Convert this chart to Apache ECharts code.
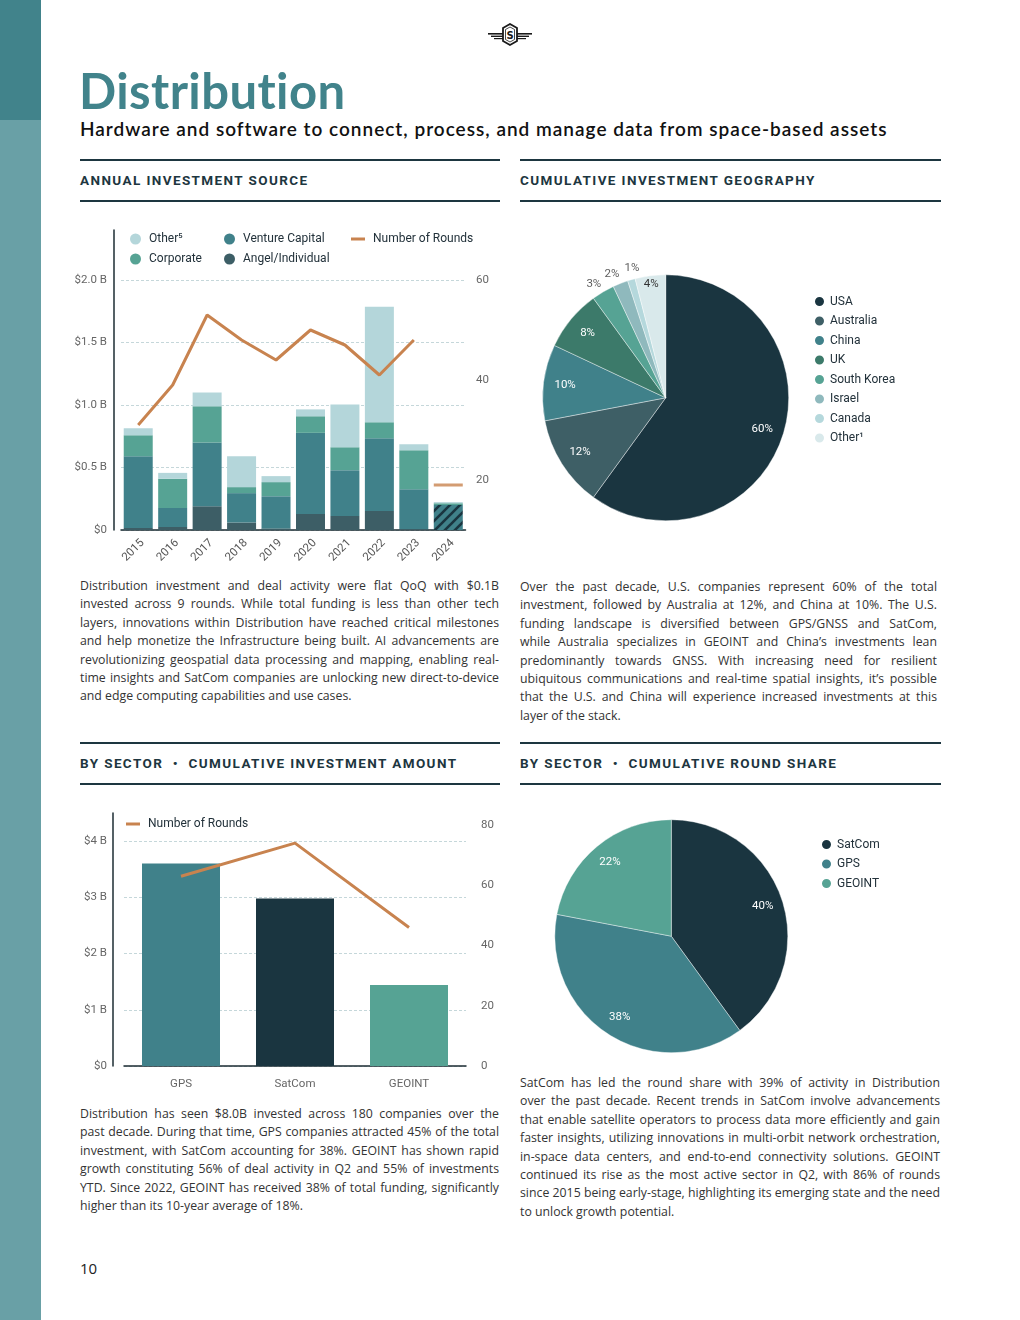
<!DOCTYPE html>
<html>
<head>
<meta charset="utf-8">
<script src="https://cdn.jsdelivr.net/npm/echarts@6/dist/echarts.min.js"></script>
<style>
  html, body { margin:0; padding:0; background:#fff; }
  #page { position:relative; width:1020px; height:1320px; overflow:hidden; background:#fff; }
  .side1 { position:absolute; left:0; top:0; width:41px; height:120px; background:#41838b; }
  .side2 { position:absolute; left:0; top:120px; width:41px; height:1200px; background:#69a0a6; }
  .title { position:absolute; left:79px; top:60px; font-family:Lato; font-weight:700; font-size:49px; color:#41838b; line-height:60px; letter-spacing:0.4px; }
  .subtitle { position:absolute; left:80px; top:118px; font-family:Lato; font-weight:600; font-size:19px; color:#111; line-height:22px; letter-spacing:1px; }
  .sec { position:absolute; box-sizing:border-box; border-top:2px solid #1d3640; border-bottom:2px solid #1d3640; height:43px; font-family:Roboto; font-weight:700; font-size:13.5px; letter-spacing:1.4px; color:#1d3640; line-height:39px; }
  .para { position:absolute; font-family:'Open Sans'; font-size:12.3px; line-height:18.4px; color:#333; }
  .para div { text-align:justify; text-align-last:justify; }
  .para div.last { text-align-last:left; }
  .chart { position:absolute; }
  .pnum { position:absolute; left:80px; top:1258px; font-family:'Open Sans'; font-size:15px; color:#222; line-height:20px; }
</style>
</head>
<body>
<div id="page">
  <div class="side1"></div>
  <div class="side2"></div>
  <svg style="position:absolute;left:486px;top:22px" width="48" height="26" viewBox="0 0 48 26">
    <g fill="#1a1a1a">
      <rect x="2" y="11" width="15" height="1.6"/>
      <rect x="5" y="13.6" width="12" height="1.4"/>
      <rect x="8" y="16" width="9" height="1.2"/>
      <rect x="31" y="11" width="15" height="1.6"/>
      <rect x="31" y="13.6" width="12" height="1.4"/>
      <rect x="31" y="16" width="9" height="1.2"/>
    </g>
    <polygon points="24,2 31,6 31,19 24,23 17,19 17,6" fill="#fff" stroke="#1a1a1a" stroke-width="1.8"/>
    <polygon points="24,5 28.5,7.5 28.5,17.5 24,20 19.5,17.5 19.5,7.5" fill="none" stroke="#1a1a1a" stroke-width="0.8"/>
    <text x="24" y="17" text-anchor="middle" font-family="DejaVu Sans" font-weight="700" font-size="10" fill="#1a1a1a">S</text>
  </svg>
  <div class="title">Distribution</div>
  <div class="subtitle">Hardware and software to connect, process, and manage data from space-based assets</div>

  <div class="sec" style="left:80px;top:159px;width:420px;">ANNUAL INVESTMENT SOURCE</div>
  <div class="sec" style="left:520px;top:159px;width:421px;">CUMULATIVE INVESTMENT GEOGRAPHY</div>
  <div class="sec" style="left:80px;top:742px;width:420px;">BY SECTOR &nbsp;•&nbsp; CUMULATIVE INVESTMENT AMOUNT</div>
  <div class="sec" style="left:520px;top:742px;width:421px;">BY SECTOR &nbsp;•&nbsp; CUMULATIVE ROUND SHARE</div>

  <div id="c1" class="chart" style="left:60px;top:215px;width:440px;height:360px;"></div>
  <div id="c2" class="chart" style="left:520px;top:215px;width:420px;height:340px;"></div>
  <div id="c3" class="chart" style="left:60px;top:800px;width:440px;height:300px;"></div>
  <div id="c4" class="chart" style="left:520px;top:800px;width:420px;height:270px;"></div>

  <div class="para" style="left:80px;top:577px;width:419px;">
    <div>Distribution investment and deal activity were flat QoQ with $0.1B</div>
    <div>invested across 9 rounds. While total funding is less than other tech</div>
    <div>layers, innovations within Distribution have reached critical milestones</div>
    <div>and help monetize the Infrastructure being built. AI advancements are</div>
    <div>revolutionizing geospatial data processing and mapping, enabling real-</div>
    <div>time insights and SatCom companies are unlocking new direct-to-device</div>
    <div class="last">and edge computing capabilities and use cases.</div>
  </div>
  <div class="para" style="left:520px;top:578px;width:417px;">
    <div>Over the past decade, U.S. companies represent 60% of the total</div>
    <div>investment, followed by Australia at 12%, and China at 10%. The U.S.</div>
    <div>funding landscape is diversified between GPS/GNSS and SatCom,</div>
    <div>while Australia specializes in GEOINT and China’s investments lean</div>
    <div>predominantly towards GNSS. With increasing need for resilient</div>
    <div>ubiquitous communications and real-time spatial insights, it’s possible</div>
    <div>that the U.S. and China will experience increased investments at this</div>
    <div class="last">layer of the stack.</div>
  </div>
  <div class="para" style="left:80px;top:1105px;width:419px;">
    <div>Distribution has seen $8.0B invested across 180 companies over the</div>
    <div>past decade. During that time, GPS companies attracted 45% of the total</div>
    <div>investment, with SatCom accounting for 38%. GEOINT has shown rapid</div>
    <div>growth constituting 56% of deal activity in Q2 and 55% of investments</div>
    <div>YTD. Since 2022, GEOINT has received 38% of total funding, significantly</div>
    <div class="last">higher than its 10-year average of 18%.</div>
  </div>
  <div class="para" style="left:520px;top:1074px;width:420px;">
    <div>SatCom has led the round share with 39% of activity in Distribution</div>
    <div>over the past decade. Recent trends in SatCom involve advancements</div>
    <div>that enable satellite operators to process data more efficiently and gain</div>
    <div>faster insights, utilizing innovations in multi-orbit network orchestration,</div>
    <div>in-space data centers, and end-to-end connectivity solutions. GEOINT</div>
    <div>continued its rise as the most active sector in Q2, with 86% of rounds</div>
    <div>since 2015 being early-stage, highlighting its emerging state and the need</div>
    <div class="last">to unlock growth potential.</div>
  </div>
  <div class="pnum">10</div>
</div>

<script>
// ---------- data ----------
const years = ['2015','2016','2017','2018','2019','2020','2021','2022','2023','2024'];
const angelIndividual = [0.016, 0.024, 0.19, 0.06, 0.013, 0.128, 0.112, 0.152, 0.008, 0];
const ventureCapital  = [0.574, 0.152, 0.51, 0.235, 0.258, 0.649, 0.367, 0.582, 0.319, 0.20];
const corporate       = [0.168, 0.234, 0.29, 0.048, 0.112, 0.133, 0.183, 0.128, 0.311, 0.014];
const otherSource     = [0.056, 0.047, 0.11, 0.247, 0.048, 0.055, 0.343, 0.925, 0.048, 0.009];
const roundsHistoric  = [31, 39, 53, 48, 44, 50, 47, 41, 48, null];
const roundsYTD       = [null, null, null, null, null, null, null, null, null, 19];
const leftTicks1  = ['$0', '$0.5 B', '$1.0 B', '$1.5 B', '$2.0 B'];
const rightTicks1 = [20, 40, 60];

const geoNames  = ['USA', 'Australia', 'China', 'UK', 'South Korea', 'Israel', 'Canada', 'Other¹'];
const geoShares = [60, 12, 10, 8, 3, 2, 1, 4];

const sectors       = ['GPS', 'SatCom', 'GEOINT'];
const sectorAmount  = [3.60, 2.98, 1.44];
const sectorRounds  = [63, 74, 46];
const leftTicks3    = ['$0', '$1 B', '$2 B', '$3 B', '$4 B'];

const shareNames  = ['SatCom', 'GPS', 'GEOINT'];
const shareValues = [40, 38, 22];

// ---------- style ----------
const C = {
  dark: '#1a3540', angel: '#3d5e66', vc: '#40818a', corp: '#56a394', other: '#b4d6da',
  line: '#c8834f', grid: '#c5d7da', axis: '#1d2d33', label: '#666', legend: '#22313a'
};
const FONT = 'Roboto';

function hatch() {
  const cv = document.createElement('canvas');
  cv.width = 10; cv.height = 10;
  const g = cv.getContext('2d');
  g.fillStyle = C.vc; g.fillRect(0, 0, 10, 10);
  g.strokeStyle = C.dark; g.lineWidth = 2.6;
  g.beginPath();
  g.moveTo(-2, 12); g.lineTo(12, -2);
  g.moveTo(-2, 2); g.lineTo(2, -2);
  g.moveTo(8, 12); g.lineTo(12, 8);
  g.stroke();
  return { image: cv, repeat: 'repeat' };
}
const hatchFill = hatch();

function withHatch(arr) {
  return arr.map((v, i) => i === arr.length - 1 ? { value: v, itemStyle: { color: hatchFill } } : v);
}

const legendText = { fontFamily: FONT, fontSize: 12, color: C.legend, padding: [0, 0, 0, 3] };
const legendTextPie = { fontFamily: FONT, fontSize: 12, color: C.legend };

// ---------- chart 1 ----------
const c1 = echarts.init(document.getElementById('c1'));
const barW = 29;
c1.setOption({
  animation: false,
  grid: { left: 61, right: 34.5, top: 15, bottom: 45 },
  legend: [
    { data: ['Other⁵', 'Corporate'], orient: 'vertical', left: 65, top: 13, icon: 'circle', itemWidth: 11, itemHeight: 11, itemGap: 8, textStyle: legendText, selectedMode: false },
    { data: ['Venture Capital', 'Angel/Individual'], orient: 'vertical', left: 159, top: 13, icon: 'circle', itemWidth: 11, itemHeight: 11, itemGap: 8, textStyle: legendText, selectedMode: false },
    { data: [{ name: 'Number of Rounds', icon: 'rect' }], left: 286, top: 13, itemWidth: 14, itemHeight: 3, textStyle: legendText, selectedMode: false }
  ],
  xAxis: {
    type: 'category', data: years,
    axisLine: { lineStyle: { color: C.axis, width: 1.5 } },
    axisTick: { show: false },
    axisLabel: { rotate: 45, color: '#555', fontFamily: FONT, fontSize: 11.5, margin: 7, verticalAlign: 'top' }
  },
  yAxis: [
    {
      type: 'value', min: 0, max: 2.4, interval: 0.5, offset: 7,
      axisLine: { show: true, lineStyle: { color: C.axis, width: 1.5 } },
      axisTick: { show: false },
      axisLabel: { color: C.label, fontFamily: FONT, fontSize: 11.5, margin: 7, showMaxLabel: false,
        formatter: v => leftTicks1[Math.round(v / 0.5)] || '' },
      splitLine: { show: true, showMaxLine: false, lineStyle: { color: C.grid, type: [3, 2], width: 1 } }
    },
    {
      type: 'value', min: 10, max: 70, interval: 10, offset: 4.5, position: 'right',
      axisLine: { show: false }, axisTick: { show: false }, splitLine: { show: false },
      axisLabel: { color: C.label, fontFamily: FONT, fontSize: 11.5, margin: 6, showMaxLabel: false,
        formatter: v => rightTicks1.includes(v) ? String(v) : '' }
    }
  ],
  series: [
    { name: 'Angel/Individual', type: 'bar', stack: 's', barWidth: barW, itemStyle: { color: C.angel }, data: withHatch(angelIndividual) },
    { name: 'Venture Capital', type: 'bar', stack: 's', barWidth: barW, itemStyle: { color: C.vc }, data: withHatch(ventureCapital) },
    { name: 'Corporate', type: 'bar', stack: 's', barWidth: barW, itemStyle: { color: C.corp }, data: corporate },
    { name: 'Other⁵', type: 'bar', stack: 's', barWidth: barW, itemStyle: { color: C.other }, data: otherSource },
    { name: 'Number of Rounds', type: 'line', yAxisIndex: 1, data: roundsHistoric, showSymbol: false, symbol: 'none',
      lineStyle: { color: C.line, width: 3 }, itemStyle: { color: C.line }, connectNulls: false },
    { name: 'Number of Rounds', type: 'scatter', yAxisIndex: 1, data: roundsYTD, symbol: 'rect', symbolSize: [29, 3],
      itemStyle: { color: C.line } }
  ]
});

// ---------- pies helper ----------
function ringSeries(names, values, center, r0, r1, which, map, color) {
  return {
    type: 'pie', center: center, radius: [r0, r1], startAngle: 90, silent: true, percentPrecision: 0,
    avoidLabelOverlap: false, minShowLabelAngle: 0,
    itemStyle: { color: 'rgba(0,0,0,0)' }, labelLine: { show: false }, emphasis: { disabled: true },
    data: names.map((n, i) => ({
      name: n, value: values[i],
      label: { show: map[n] === which, position: 'inside', formatter: '{d}%', color: color[which],
        fontFamily: FONT, fontSize: 11.5 }
    }))
  };
}

// ---------- chart 2 ----------
const geoColors = ['#1a3540', '#3e5f66', '#40818a', '#3c7a6a', '#56a394', '#8fb9bd', '#b5d8dc', '#d9e9eb'];
const geoRing = { 'USA': 'A', 'Australia': 'A', 'China': 'A', 'UK': 'A', 'South Korea': 'C', 'Israel': 'C', 'Canada': 'C', 'Other¹': 'B' };
// small nudges so the outer labels of thin slices do not collide
const geoLabelNudge = { 'South Korea': [-3, 3], 'Israel': [-4, 2], 'Canada': [4, 0] };
const ringColor = { A: '#fff', B: '#333', C: '#333' };
const cen2 = [145.7, 182.8], R2 = 123;
const geoTotal = geoShares.reduce((a, b) => a + b, 0);
// angular mid-points of each slice, in share units (for the polar label layer of small slices)
const geoMid = geoShares.map((v, i) => geoShares.slice(0, i).reduce((a, b) => a + b, 0) + v / 2);
const c2 = echarts.init(document.getElementById('c2'));
c2.setOption({
  animation: false,
  legend: { data: geoNames, orient: 'vertical', left: 288, top: 75, icon: 'circle', itemWidth: 11, itemHeight: 11, itemGap: 6.5,
    textStyle: legendTextPie, selectedMode: false },
  polar: { center: cen2, radius: R2 * 1.2 },
  angleAxis: { type: 'value', min: 0, max: geoTotal, startAngle: 90, clockwise: true, show: false },
  radiusAxis: { type: 'value', min: 0, max: 1.2, show: false },
  series: [
    { type: 'pie', center: cen2, radius: [0, R2], startAngle: 90, label: { show: false }, labelLine: { show: false },
      emphasis: { disabled: true }, itemStyle: { borderColor: '#fff', borderWidth: 0.4 },
      data: geoNames.map((n, i) => ({ name: n, value: geoShares[i], itemStyle: { color: geoColors[i] } })) },
    ringSeries(geoNames, geoShares, cen2, R2 * 0.6, R2, 'A', geoRing, ringColor),
    ringSeries(geoNames, geoShares, cen2, R2 * 0.82, R2, 'B', geoRing, ringColor),
    { type: 'scatter', coordinateSystem: 'polar', silent: true, symbolSize: 0,
      data: geoNames.map((n, i) => geoRing[n] === 'C' ? {
        name: n, value: [1.1, geoMid[i]], pct: Math.round(geoShares[i] / geoTotal * 100),
        label: { offset: geoLabelNudge[n] || [0, 0] } } : null).filter(Boolean),
      label: { show: true, position: 'inside', color: '#333', fontFamily: FONT, fontSize: 11.5,
        formatter: p => p.data.pct + '%' } }
  ]
});

// ---------- chart 3 ----------
const sectorColors = ['#40818a', '#1a3540', '#56a394'];
const c3 = echarts.init(document.getElementById('c3'));
c3.setOption({
  animation: false,
  grid: { left: 64, right: 34, top: 13, bottom: 34 },
  legend: { data: [{ name: 'Number of Rounds', icon: 'rect' }], left: 61, top: 13, itemWidth: 14, itemHeight: 3,
    textStyle: legendText, selectedMode: false },
  xAxis: {
    type: 'category', data: sectors,
    axisLine: { lineStyle: { color: C.axis, width: 1.5 } }, axisTick: { show: false },
    axisLabel: { color: C.label, fontFamily: FONT, fontSize: 11.5, margin: 12 }
  },
  yAxis: [
    { type: 'value', min: 0, max: 4.5, interval: 1, offset: 11,
      axisLine: { show: true, lineStyle: { color: C.axis, width: 1.5 } }, axisTick: { show: false },
      axisLabel: { color: C.label, fontFamily: FONT, fontSize: 11.5, margin: 6, showMaxLabel: false,
        formatter: v => leftTicks3[v] || '' },
      splitLine: { show: true, showMaxLine: false, lineStyle: { color: C.grid, type: [3, 2], width: 1 } } },
    { type: 'value', min: 0, max: 84, interval: 20, offset: 7, position: 'right',
      axisLine: { show: false }, axisTick: { show: false }, splitLine: { show: false },
      axisLabel: { color: C.label, fontFamily: FONT, fontSize: 11.5, margin: 8, showMaxLabel: false } }
  ],
  series: [
    { name: 'Amount', type: 'bar', barWidth: 78,
      data: sectorAmount.map((v, i) => ({ value: v, itemStyle: { color: sectorColors[i] } })) },
    { name: 'Number of Rounds', type: 'line', yAxisIndex: 1, data: sectorRounds, symbol: 'none',
      lineStyle: { color: C.line, width: 3 }, itemStyle: { color: C.line } }
  ]
});

// ---------- chart 4 ----------
const shareColors = ['#1a3540', '#40818a', '#56a394'];
const shareRing = { 'SatCom': 'A', 'GPS': 'A', 'GEOINT': 'A' };
const cen4 = [151.3, 136.2], R4 = 116.5;
const c4 = echarts.init(document.getElementById('c4'));
c4.setOption({
  animation: false,
  legend: { data: shareNames, orient: 'vertical', left: 295, top: 33, icon: 'circle', itemWidth: 11, itemHeight: 11, itemGap: 6.5,
    textStyle: legendTextPie, selectedMode: false },
  series: [
    { type: 'pie', center: cen4, radius: [0, R4], startAngle: 90, label: { show: false }, labelLine: { show: false },
      emphasis: { disabled: true }, itemStyle: { borderColor: '#fff', borderWidth: 0.4 },
      data: shareNames.map((n, i) => ({ name: n, value: shareValues[i], itemStyle: { color: shareColors[i] } })) },
    ringSeries(shareNames, shareValues, cen4, R4 * 0.6, R4, 'A', shareRing, ringColor)
  ]
});
</script>
</body>
</html>
